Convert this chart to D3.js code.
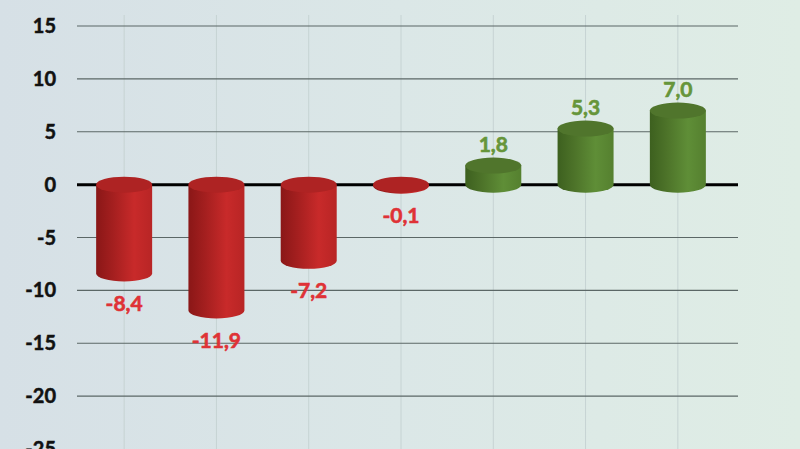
<!DOCTYPE html>
<html>
<head>
<meta charset="utf-8">
<script src="https://cdn.jsdelivr.net/npm/d3@7"></script>
<style>
  body { margin: 0; }
  svg { display: block; }
</style>
</head>
<body>
<svg id="chart" width="800" height="449"></svg>
<script>
// values
const categories = ['A', 'B', 'C', 'D', 'E', 'F', 'G'];
const values = [-8.4, -11.9, -7.2, -0.1, 1.8, 5.3, 7.0];
const labels = ['-8,4', '-11,9', '-7,2', '-0,1', '1,8', '5,3', '7,0'];
const yTicks = [15, 10, 5, 0, -5, -10, -15, -20, -25];

const width = 800, height = 449;
const svg = d3.select('#chart');

const defs = svg.append('defs');
const bg = defs.append('linearGradient').attr('id', 'bg')
    .attr('x1', 0).attr('x2', 1).attr('y1', 0).attr('y2', 0);
bg.append('stop').attr('offset', '0%').attr('stop-color', '#d6e0e6');
bg.append('stop').attr('offset', '50%').attr('stop-color', '#dbe7e7');
bg.append('stop').attr('offset', '100%').attr('stop-color', '#dfede5');

const shades = {
  red:   ['#8a1717', '#a41f1f', '#c82a2a', '#b82525'],
  green: ['#3d601f', '#4d7329', '#5f8e37', '#55802f']
};
Object.entries(shades).forEach(([k, c]) => {
  const g = defs.append('linearGradient').attr('id', 'body-' + k)
      .attr('x1', 0).attr('x2', 1).attr('y1', 0).attr('y2', 0);
  g.append('stop').attr('offset', '0%').attr('stop-color', c[0]);
  g.append('stop').attr('offset', '30%').attr('stop-color', c[1]);
  g.append('stop').attr('offset', '68%').attr('stop-color', c[2]);
  g.append('stop').attr('offset', '100%').attr('stop-color', c[3]);
});

svg.append('rect').attr('width', width).attr('height', height).attr('fill', 'url(#bg)');

const x = d3.scaleBand()
    .domain(categories)
    .range([78, 724])
    .paddingInner(0.39)
    .paddingOuter(0.195);

const y = d3.scaleLinear()
    .domain([-25, 15])
    .range([449, 26]);

const font = 'Lato, "Open Sans", sans-serif';

// faint vertical lines through the bar centres
svg.append('g').selectAll('line')
  .data(categories)
  .join('line')
    .attr('x1', d => x(d) + x.bandwidth() / 2)
    .attr('x2', d => x(d) + x.bandwidth() / 2)
    .attr('y1', 15).attr('y2', height)
    .attr('stroke', '#c6d3d3').attr('stroke-width', 1);

// horizontal gridlines
svg.append('g').selectAll('line')
  .data(yTicks.filter(d => d !== 0 && d !== -25))
  .join('line')
    .attr('x1', 77).attr('x2', 738)
    .attr('y1', d => y(d)).attr('y2', d => y(d))
    .attr('stroke', '#5b6766').attr('stroke-width', 1.2);

svg.append('line')
    .attr('x1', 77).attr('x2', 738)
    .attr('y1', y(0)).attr('y2', y(0))
    .attr('stroke', '#000').attr('stroke-width', 3);

// y tick labels
svg.append('g').selectAll('text')
  .data(yTicks)
  .join('text')
    .attr('x', 56)
    .attr('y', d => y(d))
    .attr('dy', '0.35em')
    .attr('text-anchor', 'end')
    .attr('font-family', font)
    .attr('font-weight', 700)
    .attr('font-size', 20)
    .attr('fill', '#111')
    .attr('stroke', '#111')
    .attr('stroke-width', 0.5)
    .text(d => d);

// cylinders
const rx = 28, ry = 8;
const bars = svg.append('g').selectAll('g')
  .data(values)
  .join('g');

bars.each(function(v, i) {
  const g = d3.select(this);
  const cx = x(categories[i]) + x.bandwidth() / 2;
  const yTop = Math.min(y(v), y(0));
  const yBot = Math.max(y(v), y(0));
  const key = v < 0 ? 'red' : 'green';
  g.append('path')
    .attr('d', `M${cx - rx},${yTop} L${cx - rx},${yBot} A${rx},${ry} 0 0 0 ${cx + rx},${yBot} L${cx + rx},${yTop} Z`)
    .attr('fill', `url(#body-${key})`);
  g.append('ellipse')
    .attr('cx', cx).attr('cy', yTop)
    .attr('rx', rx).attr('ry', ry)
    .attr('fill', v < 0 ? '#ae2323' : '#50752c');
});

// value labels
svg.append('g').selectAll('text')
  .data(values)
  .join('text')
    .attr('x', (d, i) => x(categories[i]) + x.bandwidth() / 2)
    .attr('y', d => d < 0 ? y(d) + ry + 22 : y(d) - ry - 13)
    .attr('dy', '0.35em')
    .attr('text-anchor', 'middle')
    .attr('font-family', font)
    .attr('font-weight', 700)
    .attr('font-size', 21)
    .attr('fill', d => d < 0 ? '#df3236' : '#66953a')
    .attr('stroke', d => d < 0 ? '#df3236' : '#66953a')
    .attr('stroke-width', 0.6)
    .text((d, i) => labels[i]);
</script>
</body>
</html>
